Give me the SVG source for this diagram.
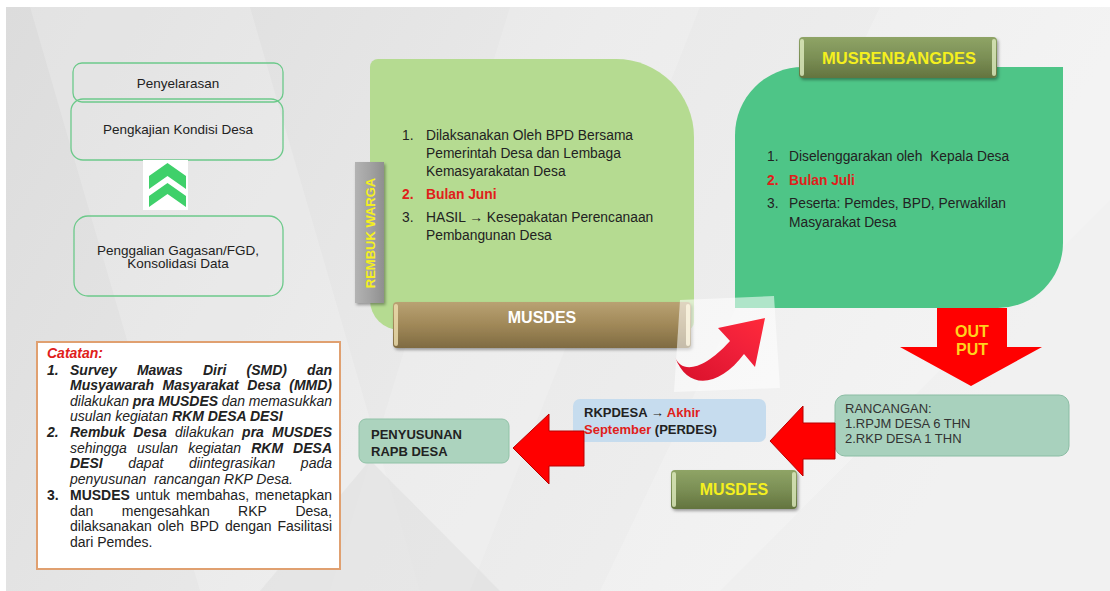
<svg xmlns="http://www.w3.org/2000/svg" width="1110" height="591" viewBox="0 0 1110 591">
<defs>
<style>
.t{font-family:"Liberation Sans",Arial,sans-serif;fill:#222}
.i{font-style:italic}
.b{font-weight:bold}
.bi{font-weight:bold;font-style:italic}
.red{fill:#e0201a}
.yel{fill:#f5f01e}
.lbox{fill:none;stroke:#6cc98a;stroke-width:1.3}
.arrow{fill:#ff0000;stroke:#b80000;stroke-width:1}
</style>
<linearGradient id="bg" x1="0" y1="0" x2="1" y2="0.3">
<stop offset="0" stop-color="#dcdcdc"/><stop offset="0.5" stop-color="#e9e9e9"/><stop offset="1" stop-color="#f1f1f1"/>
</linearGradient>
<linearGradient id="brown" x1="0" y1="0" x2="0" y2="1">
<stop offset="0" stop-color="#b9a273"/><stop offset="0.5" stop-color="#a08858"/><stop offset="1" stop-color="#7f6b42"/>
</linearGradient>
<linearGradient id="olive" x1="0" y1="0" x2="0" y2="1">
<stop offset="0" stop-color="#8fa466"/><stop offset="0.5" stop-color="#7b8f55"/><stop offset="1" stop-color="#63743f"/>
</linearGradient>
<linearGradient id="grayb" x1="0" y1="0" x2="1" y2="0">
<stop offset="0" stop-color="#b3b3b3"/><stop offset="0.5" stop-color="#a3a3a3"/><stop offset="1" stop-color="#8f8f8f"/>
</linearGradient>
<linearGradient id="curv" x1="0" y1="1" x2="1" y2="0">
<stop offset="0" stop-color="#d8102a"/><stop offset="0.6" stop-color="#f0203a"/><stop offset="1" stop-color="#ff2a3a"/>
</linearGradient>
<filter id="sh" x="-10%" y="-20%" width="130%" height="160%">
<feDropShadow dx="1.5" dy="2" stdDeviation="1.5" flood-color="#000" flood-opacity="0.35"/>
</filter>
</defs>

<!-- background -->
<rect x="0" y="0" width="1110" height="591" fill="#ffffff"/>
<rect x="6" y="7" width="1104" height="584" fill="url(#bg)"/>
<polygon points="30,7 250,7 420,591 200,591" fill="#ffffff" opacity="0.18"/>
<polygon points="510,7 700,7 470,591 330,591" fill="#ffffff" opacity="0.15"/>
<polygon points="880,7 1110,7 1110,200 720,591 600,591" fill="#ffffff" opacity="0.2"/>
<polygon points="370,460 500,591 260,591" fill="#d6d6d6" opacity="0.35"/>

<!-- left boxes -->
<g id="penyelarasan">
<rect x="73" y="63" width="210" height="39" rx="9" class="lbox"/>
<text x="178" y="88" class="t" font-size="13.5" text-anchor="middle">Penyelarasan</text>
</g>
<g id="pengkajian">
<rect x="71" y="99" width="212" height="61" rx="12" class="lbox"/>
<text x="178" y="134" class="t" font-size="13.5" text-anchor="middle">Pengkajian Kondisi Desa</text>
</g>
<g id="penggalian">
<rect x="74" y="216" width="209" height="80" rx="14" class="lbox"/>
<text x="178" y="255" class="t" font-size="13.5" text-anchor="middle">Penggalian Gagasan/FGD,</text>
<text x="178" y="268" class="t" font-size="13.5" text-anchor="middle">Konsolidasi Data</text>
</g>

<!-- catatan -->
<g id="catatan">
<rect x="37" y="342" width="303" height="227" fill="#ffffff" stroke="#e0a070" stroke-width="2"/>
<text x="47" y="358" class="t bi red" font-size="14">Catatan:</text>
<g class="t" font-size="14">
<text y="374.5"><tspan x="47" class="bi">1.</tspan><tspan x="70" class="bi">Survey</tspan><tspan x="136.9" class="bi">Mawas</tspan><tspan x="203" class="bi">Diri</tspan><tspan x="246.5" class="bi">(SMD)</tspan></text>
<text x="332" y="374.5" class="bi" text-anchor="end">dan</text>
<text y="390"><tspan x="70" class="bi">Musyawarah</tspan><tspan x="162.5" class="bi">Masyarakat</tspan><tspan x="247.3" class="bi">Desa</tspan></text>
<text x="332" y="390" class="bi" text-anchor="end">(MMD)</text>
<text y="405.5"><tspan x="70" class="i">dilakukan</tspan><tspan x="132.8" class="bi">pra</tspan><tspan x="158.2" class="bi">MUSDES</tspan><tspan x="221.8" class="i">dan</tspan></text>
<text x="332" y="405.5" class="i" text-anchor="end">memasukkan</text>
<text x="70" y="421"><tspan class="i">usulan kegiatan </tspan><tspan class="bi">RKM DESA DESI</tspan></text>
<text y="437"><tspan x="47" class="bi">2.</tspan><tspan x="70" class="bi">Rembuk</tspan><tspan x="133.3" class="bi">Desa</tspan><tspan x="174.9" class="i">dilakukan</tspan><tspan x="242.1" class="bi">pra</tspan></text>
<text x="332" y="437" class="bi" text-anchor="end">MUSDES</text>
<text y="452.5"><tspan x="70" class="i">sehingga</tspan><tspan x="136.9" class="i">usulan</tspan><tspan x="188.2" class="i">kegiatan</tspan><tspan x="251.2" class="bi">RKM</tspan></text>
<text x="332" y="452.5" class="bi" text-anchor="end">DESA</text>
<text y="468"><tspan x="70" class="bi">DESI</tspan><tspan x="128.3" class="i">dapat</tspan><tspan x="188.9" class="i">diintegrasikan</tspan></text>
<text x="332" y="468" class="i" text-anchor="end">pada</text>
<text x="70" y="484" class="i" xml:space="preserve">penyusunan  rancangan RKP Desa.</text>
<text y="500"><tspan x="47" class="b">3.</tspan><tspan x="70" class="b">MUSDES</tspan><tspan x="135.8">untuk</tspan><tspan x="175.9">membahas,</tspan></text>
<text x="332" y="500" text-anchor="end">menetapkan</text>
<text y="515.5"><tspan x="70">dan</tspan><tspan x="121.8">mengesahkan</tspan><tspan x="238.1">RKP</tspan></text>
<text x="332" y="515.5" text-anchor="end">Desa,</text>
<text y="531"><tspan x="70">dilaksanakan</tspan><tspan x="157.6">oleh</tspan><tspan x="190.1">BPD</tspan><tspan x="224.9">dengan</tspan></text>
<text x="332" y="531" text-anchor="end">Fasilitasi</text>
<text x="70" y="546.5">dari Pemdes.</text>
</g>
</g>

<!-- musdes (light green) panel -->
<g id="musdes-panel">
<path d="M378,59 H616 A78,78 0 0 1 694,137 V322 A8,8 0 0 1 686,330 H400 A30,30 0 0 1 370,300 V67 A8,8 0 0 1 378,59 Z" fill="#b5db91"/>
<g class="t" font-size="13.8">
<text x="402" y="140">1.</text><text x="426" y="140">Dilaksanakan Oleh BPD Bersama</text>
<text x="426" y="158">Pemerintah Desa dan Lembaga</text>
<text x="426" y="176">Kemasyarakatan Desa</text>
<text x="402" y="199" class="b red">2.</text><text x="426" y="199" class="b red">Bulan Juni</text>
<text x="402" y="222">3.</text><text x="426" y="222">HASIL → Kesepakatan Perencanaan</text>
<text x="426" y="240">Pembangunan Desa</text>
</g>
</g>
<g id="rembuk-warga">
<rect x="355" y="162" width="29" height="141" fill="url(#grayb)" filter="url(#sh)"/>
<text transform="translate(375,233) rotate(-90)" x="0" y="0" class="t b yel" font-size="13" text-anchor="middle">REMBUK WARGA</text>
</g>
<g id="musdes-button">
<rect x="393" y="302" width="298" height="46" rx="4" fill="url(#brown)" filter="url(#sh)"/>
<rect x="394" y="304" width="4" height="42" rx="2" fill="#efe0b0" opacity="0.8"/>
<rect x="686" y="304" width="4" height="42" rx="2" fill="#f3e6b8" opacity="0.9"/>
<text x="542" y="323" class="t b" font-size="16" text-anchor="middle" style="fill:#ffffff">MUSDES</text>
</g>

<!-- musrenbangdes (dark green) panel -->
<g id="musrenbangdes-panel">
<path d="M803,67 H1063 V243 A65,65 0 0 1 998,308 H735 V135 A68,68 0 0 1 803,67 Z" fill="#4ec587"/>
<g class="t" font-size="13.8">
<text x="767" y="161">1.</text><text x="789" y="161" xml:space="preserve">Diselenggarakan oleh  Kepala Desa</text>
<text x="767" y="185" class="b red">2.</text><text x="789" y="185" class="b red">Bulan Juli</text>
<text x="767" y="208">3.</text><text x="789" y="208">Peserta: Pemdes, BPD, Perwakilan</text>
<text x="789" y="227">Masyarakat Desa</text>
</g>
</g>
<g id="musrenbangdes-button">
<rect x="799" y="37" width="198" height="41" rx="4" fill="url(#olive)" filter="url(#sh)"/>
<rect x="800" y="39" width="4" height="37" rx="2" fill="#e0ecc0" opacity="0.8"/>
<rect x="992" y="39" width="4" height="37" rx="2" fill="#e0ecc0" opacity="0.8"/>
<text x="899" y="64" class="t b yel" font-size="16.5" text-anchor="middle">MUSRENBANGDES</text>
</g>

<!-- lower nodes -->
<g id="rancangan">
<rect x="835" y="395" width="234" height="61" rx="10" fill="#a8d1bd" stroke="#8bbda4" stroke-width="1"/>
<text x="845" y="413" class="t" font-size="13" style="fill:#333">RANCANGAN:</text>
<text x="845" y="428" class="t" font-size="13" style="fill:#333">1.RPJM DESA 6 THN</text>
<text x="845" y="443" class="t" font-size="13" style="fill:#333">2.RKP DESA 1 THN</text>
</g>
<g id="rkpdesa">
<rect x="573" y="399" width="193" height="43" rx="7" fill="#c6dcee"/>
<text x="584" y="417" class="t b" font-size="13">RKPDESA → <tspan class="red">Akhir</tspan></text>
<text x="584" y="434" class="t b" font-size="13"><tspan class="red">September</tspan> (PERDES)</text>
</g>
<g id="penyusunan">
<rect x="359" y="419" width="150" height="44" rx="7" fill="#acd3be" stroke="#90c2a7" stroke-width="1"/>
<text x="371" y="439" class="t b" font-size="13">PENYUSUNAN</text>
<text x="371" y="456" class="t b" font-size="13">RAPB DESA</text>
</g>
<g id="musdes-bottom">
<rect x="671" y="470" width="126" height="39" rx="4" fill="url(#olive)" filter="url(#sh)"/>
<rect x="672" y="472" width="4" height="35" rx="2" fill="#e0ecc0" opacity="0.8"/>
<rect x="792" y="472" width="4" height="35" rx="2" fill="#e0ecc0" opacity="0.8"/>
<text x="734" y="495" class="t b yel" font-size="16" text-anchor="middle">MUSDES</text>
</g>

<!-- connectors -->
<g id="connectors">
<g id="chevrons">
<rect x="143" y="160" width="45" height="50" fill="#ffffff"/>
<polygon points="167.5,163 186,176 186,189 167.5,176 149,189 149,176" fill="#3fd06a"/>
<polygon points="167.5,183 186,196 186,207 167.5,194 149,207 149,196" fill="#3fd06a"/>
</g>
<g id="curved-arrow">
<polygon points="680,300 774,296 780,388 674,392" fill="#ffffff" opacity="0.55"/>
<path d="M675,357 C681,373 702,372 730,341 L718,328 L765,318 L755,367 L744,354 C720,386 688,392 675,357 Z" fill="url(#curv)"/>
</g>
<g id="output-arrow">
<polygon points="937,308 1007,308 1007,347 1042,347 971,386 900,347 937,347" fill="#ff0000"/>
<text x="972" y="337" class="t b" font-size="16" text-anchor="middle" style="fill:#ffd21e">OUT</text>
<text x="972" y="355" class="t b" font-size="16" text-anchor="middle" style="fill:#ffd21e">PUT</text>
</g>
<polygon id="arrow-rancangan-rkp" class="arrow" points="770,441 803,406 803,423 835,423 835,459 803,459 803,476"/>
<polygon id="arrow-rkp-penyusunan" class="arrow" points="513,448 549,414 549,431 584,431 584,466 549,466 549,484"/>
</g>
</svg>
